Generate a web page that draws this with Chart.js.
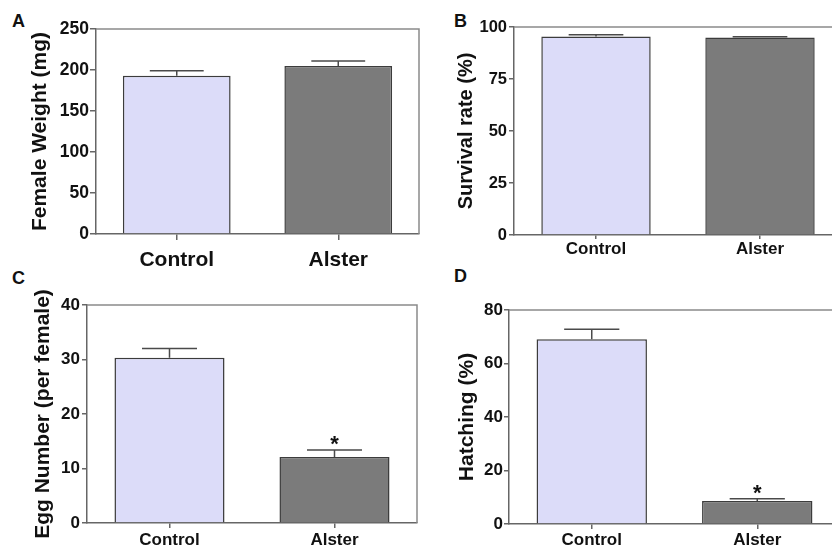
<!DOCTYPE html>
<html>
<head>
<meta charset="utf-8">
<script src="https://cdn.jsdelivr.net/npm/chart.js@4.4.0/dist/chart.umd.min.js"></script>
<style>
  body { margin: 0; width: 832px; height: 549px; overflow: hidden; background: #fff; position: relative; font-family: "Liberation Sans", Arial, sans-serif; }
  canvas { position: absolute; }
  .letra { position: absolute; font-weight: bold; font-size: 18px; line-height: 1; color: #111; }
</style>
</head>
<body>
<div class="letra" style="left:12px;top:12px">A</div>
<div class="letra" style="left:454px;top:12px">B</div>
<div class="letra" style="left:12px;top:269px">C</div>
<div class="letra" style="left:454px;top:267px">D</div>
<canvas id="chart-a" width="420" height="275" style="left:0;top:0"></canvas>
<canvas id="chart-b" width="422" height="275" style="left:420px;top:0"></canvas>
<canvas id="chart-c" width="420" height="274" style="left:0;top:275px"></canvas>
<canvas id="chart-d" width="422" height="274" style="left:420px;top:275px"></canvas>
<script>
const grupos = ["Control", "Alster"];
const cores = ["#dcdcf9", "#7b7b7b"];

const pesoFemea = [193, 205];
const pesoErro = [6, 6];
const ticksPeso = [0, 50, 100, 150, 200, 250];

const sobrevivencia = [95.4, 94.9];
const sobrevivenciaErro = [0.9, 0.4];
const ticksSobrevivencia = [0, 25, 50, 75, 100];

const ovos = [30.3, 12.1];
const ovosErro = [1.7, 1.3];
const ovosMarca = ["", "*"];
const ticksOvos = [0, 10, 20, 30, 40];

const eclosao = [69.1, 8.6];
const eclosaoErro = [3.7, 0.8];
const eclosaoMarca = ["", "*"];
const ticksEclosao = [0, 20, 40, 60, 80];

const fonte = "'Liberation Sans', Arial, sans-serif";

// error bars (upper only), asterisks and the top/right frame
const extras = {
  id: "extras",
  afterDatasetsDraw(chart, args, opts) {
    const ctx = chart.ctx;
    const area = chart.chartArea;
    const y = chart.scales.y;
    ctx.save();
    ctx.strokeStyle = "#8a8a8a";
    ctx.lineWidth = 1.5;
    ctx.beginPath();
    ctx.moveTo(area.left, area.top);
    ctx.lineTo(area.right, area.top);
    ctx.lineTo(area.right, area.bottom);
    ctx.stroke();

    chart.getDatasetMeta(0).data.forEach((bar, i) => {
      const topo = y.getPixelForValue(opts.valores[i] + opts.erros[i]);
      const meio = bar.width / 4;
      ctx.strokeStyle = "#4a4a4a";
      ctx.lineWidth = 1.5;
      ctx.beginPath();
      ctx.moveTo(bar.x, bar.y);
      ctx.lineTo(bar.x, topo);
      ctx.moveTo(bar.x - meio, topo);
      ctx.lineTo(bar.x + meio, topo);
      ctx.stroke();
      if (opts.marcas && opts.marcas[i]) {
        ctx.fillStyle = "#111";
        ctx.font = "bold 22px " + fonte;
        ctx.textAlign = "center";
        ctx.textBaseline = "alphabetic";
        ctx.fillText(opts.marcas[i], bar.x, topo + 1);
      }
    });
    ctx.restore();
  }
};

function criarPainel(id, p) {
  new Chart(document.getElementById(id), {
    type: "bar",
    data: {
      labels: grupos,
      datasets: [{
        data: p.valores,
        backgroundColor: cores,
        borderColor: "#3c3c3c",
        borderWidth: 1.5,
        categoryPercentage: 1,
        barPercentage: 0.667
      }]
    },
    options: {
      responsive: false,
      animation: false,
      devicePixelRatio: 1,
      layout: { padding: p.padding },
      plugins: {
        legend: { display: false },
        tooltip: { enabled: false },
        extras: { valores: p.valores, erros: p.erros, marcas: p.marcas }
      },
      scales: {
        x: {
          grid: { offset: false, drawOnChartArea: false, tickLength: p.xTick, color: "#666", lineWidth: 1.5 },
          border: { color: "#666", width: 1.5 },
          ticks: { color: "#111", padding: p.xPad, font: { family: fonte, size: p.xFonte, weight: "bold" } },
          afterFit: s => { s.height = p.xAltura; }
        },
        y: {
          min: p.ticks[0],
          max: p.ticks[p.ticks.length - 1],
          afterBuildTicks: s => { s.ticks = p.ticks.map(v => ({ value: v })); },
          grid: { drawOnChartArea: false, tickLength: p.yTick, color: "#666", lineWidth: 1.5 },
          border: { color: "#666", width: 1.5 },
          ticks: { color: "#111", padding: p.yPad, font: { family: fonte, size: p.yFonte, weight: "bold" } },
          title: {
            display: true,
            text: p.titulo,
            color: "#111",
            font: { family: fonte, size: p.tituloFonte, weight: "bold" },
            padding: { top: p.tituloPad, bottom: 0 }
          },
          afterFit: s => { s.width = p.yLargura; }
        }
      }
    },
    plugins: [extras]
  });
}

criarPainel("chart-a", {
  valores: pesoFemea, erros: pesoErro, ticks: ticksPeso,
  titulo: "Female Weight (mg)", tituloFonte: 21, tituloPad: 28,
  padding: { top: 29, right: 1, left: 0, bottom: 0 },
  yLargura: 96, yTick: 6, yPad: 1, yFonte: 17.5,
  xAltura: 41, xTick: 6, xPad: 8, xFonte: 21
});

criarPainel("chart-b", {
  valores: sobrevivencia, erros: sobrevivenciaErro, ticks: ticksSobrevivencia,
  titulo: "Survival rate (%)", tituloFonte: 20, tituloPad: 34,
  padding: { top: 27, right: 0, left: 0, bottom: 0 },
  yLargura: 94, yTick: 5, yPad: 2, yFonte: 16.5,
  xAltura: 40, xTick: 4, xPad: 0, xFonte: 17
});

criarPainel("chart-c", {
  valores: ovos, erros: ovosErro, marcas: ovosMarca, ticks: ticksOvos,
  titulo: "Egg Number (per female)", tituloFonte: 21, tituloPad: 31,
  padding: { top: 30, right: 3, left: 0, bottom: 0 },
  yLargura: 87, yTick: 5, yPad: 2, yFonte: 17,
  xAltura: 26, xTick: 5, xPad: 2, xFonte: 17
});

criarPainel("chart-d", {
  valores: eclosao, erros: eclosaoErro, marcas: eclosaoMarca, ticks: ticksEclosao,
  titulo: "Hatching (%)", tituloFonte: 21, tituloPad: 35,
  padding: { top: 35, right: 2, left: 0, bottom: 0 },
  yLargura: 89, yTick: 5, yPad: 1, yFonte: 17,
  xAltura: 25, xTick: 5, xPad: 1, xFonte: 17
});
</script>
</body>
</html>
